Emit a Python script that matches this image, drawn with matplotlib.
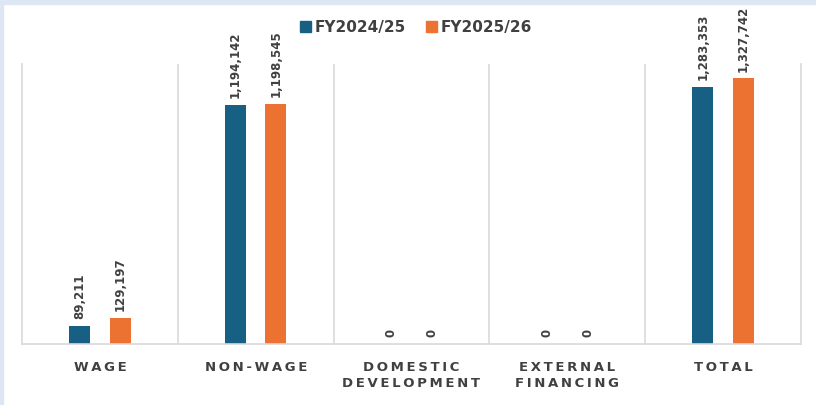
import matplotlib.pyplot as plt
import matplotlib.patches as mpatches
import numpy as np

# data
categories = ['WAGE', 'NON-WAGE', 'DOMESTIC\nDEVELOPMENT', 'EXTERNAL\nFINANCING', 'TOTAL']
fy2024 = [89211, 1194142, 0, 0, 1283353]
fy2025 = [129197, 1198545, 0, 0, 1327742]
series_names = ['FY2024/25', 'FY2025/26']

BLUE = '#175F83'
ORANGE = '#EC7232'
TEXT = '#404040'
GRID = '#D9D9D9'


def spaced(s):
    # wide letter spacing like the original
    return '\n'.join('\u2009'.join(line) for line in s.split('\n'))


fig = plt.figure(figsize=(8.16, 4.05), dpi=100)
ax = fig.add_axes([22/816, 61/405, (801-22)/816, (344-64)/405])

x = np.arange(len(categories))
w = 0.135
off = 0.13
b1 = ax.bar(x - off, fy2024, w, color=BLUE, label=series_names[0])
b2 = ax.bar(x + off, fy2025, w, color=ORANGE, label=series_names[1])

for bars, vals in ((b1, fy2024), (b2, fy2025)):
    for r, v in zip(bars, vals):
        ax.annotate(f'{v:,}', (r.get_x() + r.get_width()/2, r.get_height()),
                    xytext=(0, 5), textcoords='offset points', rotation=90,
                    ha='center', va='bottom', fontsize=8.5, fontweight='bold', color=TEXT)

ax.set_xlim(-0.5, len(categories) - 0.5)
ax.set_ylim(0, 1400000)
for xv in np.arange(0.5, len(categories) - 0.5, 1):
    ax.axvline(xv, color=GRID, lw=1.2, zorder=0)

ax.set_yticks([])
ax.set_xticks(x)
ax.set_xticklabels([spaced(c) for c in categories], fontsize=9.5, fontweight='bold',
                   color=TEXT, linespacing=1.35, va='top')
ax.tick_params(axis='x', length=0, pad=12)
ax.spines['top'].set_visible(False)
for s in ('left', 'right', 'bottom'):
    ax.spines[s].set_color(GRID)
    ax.spines[s].set_linewidth(1.2)

handles = [mpatches.Patch(color=BLUE), mpatches.Patch(color=ORANGE)]
fig.legend(handles, series_names, loc='center', bbox_to_anchor=(0.51, 0.933), ncol=2,
           frameon=False, prop={'weight': 'bold', 'size': 11},
           handlelength=0.7, handleheight=0.7, handletextpad=0.25, columnspacing=1.3,
           labelcolor=TEXT)

# light blue frame edges (top and left)
fig.patches.append(mpatches.Rectangle((0, 1 - 4/405), 1, 4/405, transform=fig.transFigure,
                                      color='#DCE7F3', zorder=0))
fig.patches.append(mpatches.Rectangle((0, 0), 3/816, 1, transform=fig.transFigure,
                                      color='#DCE7F3', zorder=0))

fig.savefig('out.png', dpi=100)
